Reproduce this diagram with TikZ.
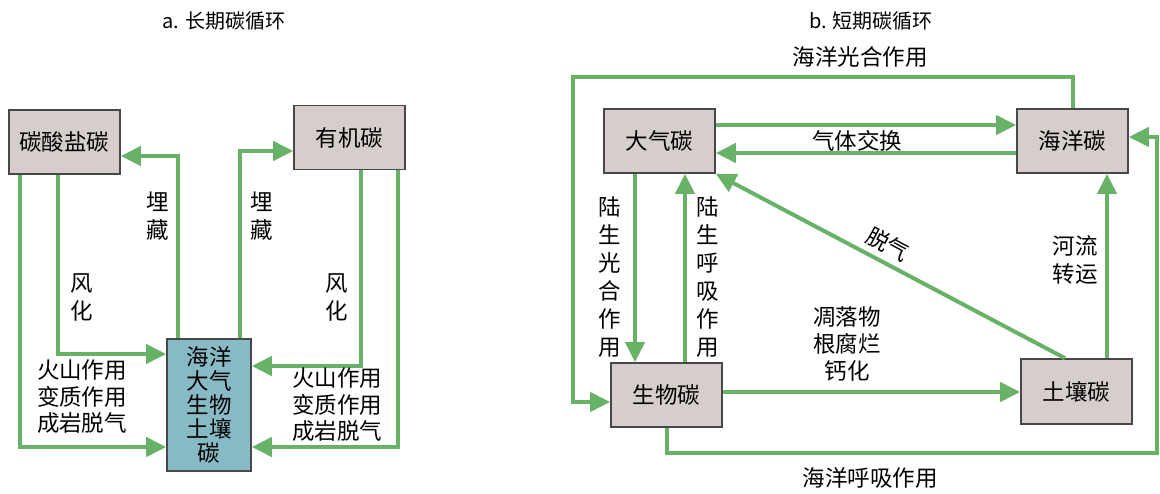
\documentclass[tikz,border=0pt]{standalone}
\usepackage{fontspec}
\newfontfamily\cjk{Noto Sans CJK SC}
\usepackage{tikz}
\usetikzlibrary{shapes,positioning,arrows.meta,calc}
\definecolor{flowgreen}{RGB}{104,178,104}
\definecolor{poolgray}{RGB}{214,206,204}
\definecolor{poolteal}{RGB}{136,186,198}
\definecolor{edgegray}{RGB}{72,72,72}
\begin{document}
\begin{tikzpicture}[x=1pt,y=-1pt,
						pool/.style={draw=edgegray, line width=1.6pt, fill=poolgray, minimum width=111pt, minimum height=64pt, inner sep=0pt, font=\cjk\fontsize{22.5}{28}\selectfont},
						flow/.style={draw=flowgreen, line width=4pt, -{Triangle[length=20pt,width=19pt]}},
						lbl/.style={align=center, inner sep=0pt, font=\cjk\fontsize{22.5}{28}\selectfont},
						title/.style={inner sep=0pt, font=\cjk\fontsize{20}{24}\selectfont}]
				\useasboundingbox (0,0) rectangle (1160,493);
				\node[title] (ta) at (224,21) {a. 长期碳循环};
				\node[title] (tb) at (871,21) {b. 短期碳循环};
				\node[pool] (carb) at (64.5,142) {碳酸盐碳};
				\node[pool] (org) at (349.5,137.5) {有机碳};
				\node[pool, fill=poolteal, minimum width=84pt, minimum height=132pt, align=center, font=\cjk\fontsize{22.5}{24}\selectfont] (mix) at (209,405) {海洋\\大气\\生物\\土壤\\碳};
				\draw[flow] ($(carb.south)+(-44.5,0)$) |- ($(mix.west)+(0,42)$);
				\draw[flow] ($(carb.south)+(-6.5,0)$) |- ($(mix.west)+(0,-51)$);
				\draw[flow] ($(mix.north)+(-31,0)$) |- ($(carb.east)+(0,14)$);
				\draw[flow] ($(mix.north)+(31,0)$) |- ($(org.west)+(0,13.5)$);
				\draw[flow] ($(org.south)+(11.5,0)$) |- ($(mix.east)+(0,-39)$);
				\draw[flow] ($(org.south)+(48.5,0)$) |- ($(mix.east)+(0,42)$);
				\node[lbl] (bury1) at (158,216) {埋\\藏};
				\node[lbl] (bury2) at (262,216) {埋\\藏};
				\node[lbl] (wea1) at (82,297) {风\\化};
				\node[lbl] (wea2) at (337,297) {风\\化};
				\node[lbl, font=\cjk\fontsize{22.5}{26.5}\selectfont] (vol1) at (82,397) {火山作用\\变质作用\\成岩脱气};
				\node[lbl, font=\cjk\fontsize{22.5}{26.5}\selectfont] (vol2) at (337,405) {火山作用\\变质作用\\成岩脱气};
				\node[pool] (atm) at (659.5,141) {大气碳};
				\node[pool] (ocean) at (1072.5,141) {海洋碳};
				\node[pool] (bio) at (666.5,395) {生物碳};
				\node[pool, minimum height=65pt] (soil) at (1076.5,391.5) {土壤碳};
				\coordinate (tl) at (573,77);
				\coordinate (br) at (1157,453);
				\draw[flow] ($(ocean.north)+(0.5,0)$) |- (tl) |- ($(bio.west)+(0,7)$);
				\draw[flow] ($(bio.south)+(0.5,0)$) |- (br) |- ($(ocean.east)+(0,-4)$);
				\draw[flow] ($(atm.east)+(0,-16)$) -- ($(ocean.west)+(0,-16)$);
				\draw[flow] ($(ocean.west)+(0,12)$) -- ($(atm.east)+(0,12)$);
				\draw[flow] ($(atm.south)+(-24.5,0)$) -- ($(bio.north)+(-31.5,0)$);
				\draw[flow] ($(bio.north)+(18.5,0)$) -- ($(atm.south)+(25.5,0)$);
				\draw[flow] ($(soil.north)+(-11.5,0)$) -- (atm.south east);
				\draw[flow] ($(bio.east)+(0,-3)$) -- ($(soil.west)+(0,0.5)$);
				\draw[flow] ($(soil.north)+(30.5,0)$) -- ($(ocean.south)+(34.5,0)$);
				\node[lbl] (photo) at (860,57) {海洋光合作用};
				\node[lbl] (resp) at (870,478) {海洋呼吸作用};
				\node[lbl] (gas) at (857,141) {气体交换};
				\node[lbl] (landp) at (610,277) {陆\\生\\光\\合\\作\\用};
				\node[lbl] (landr) at (708,277) {陆\\生\\呼\\吸\\作\\用};
				\node[lbl, rotate=-28] (degas) at (888,244) {脱气};
				\node[lbl, font=\cjk\fontsize{22.5}{27}\selectfont] (litter) at (847,344) {凋落物\\根腐烂\\钙化};
				\node[lbl] (river) at (1075,260) {河流\\转运};
\end{tikzpicture}
\end{document}
